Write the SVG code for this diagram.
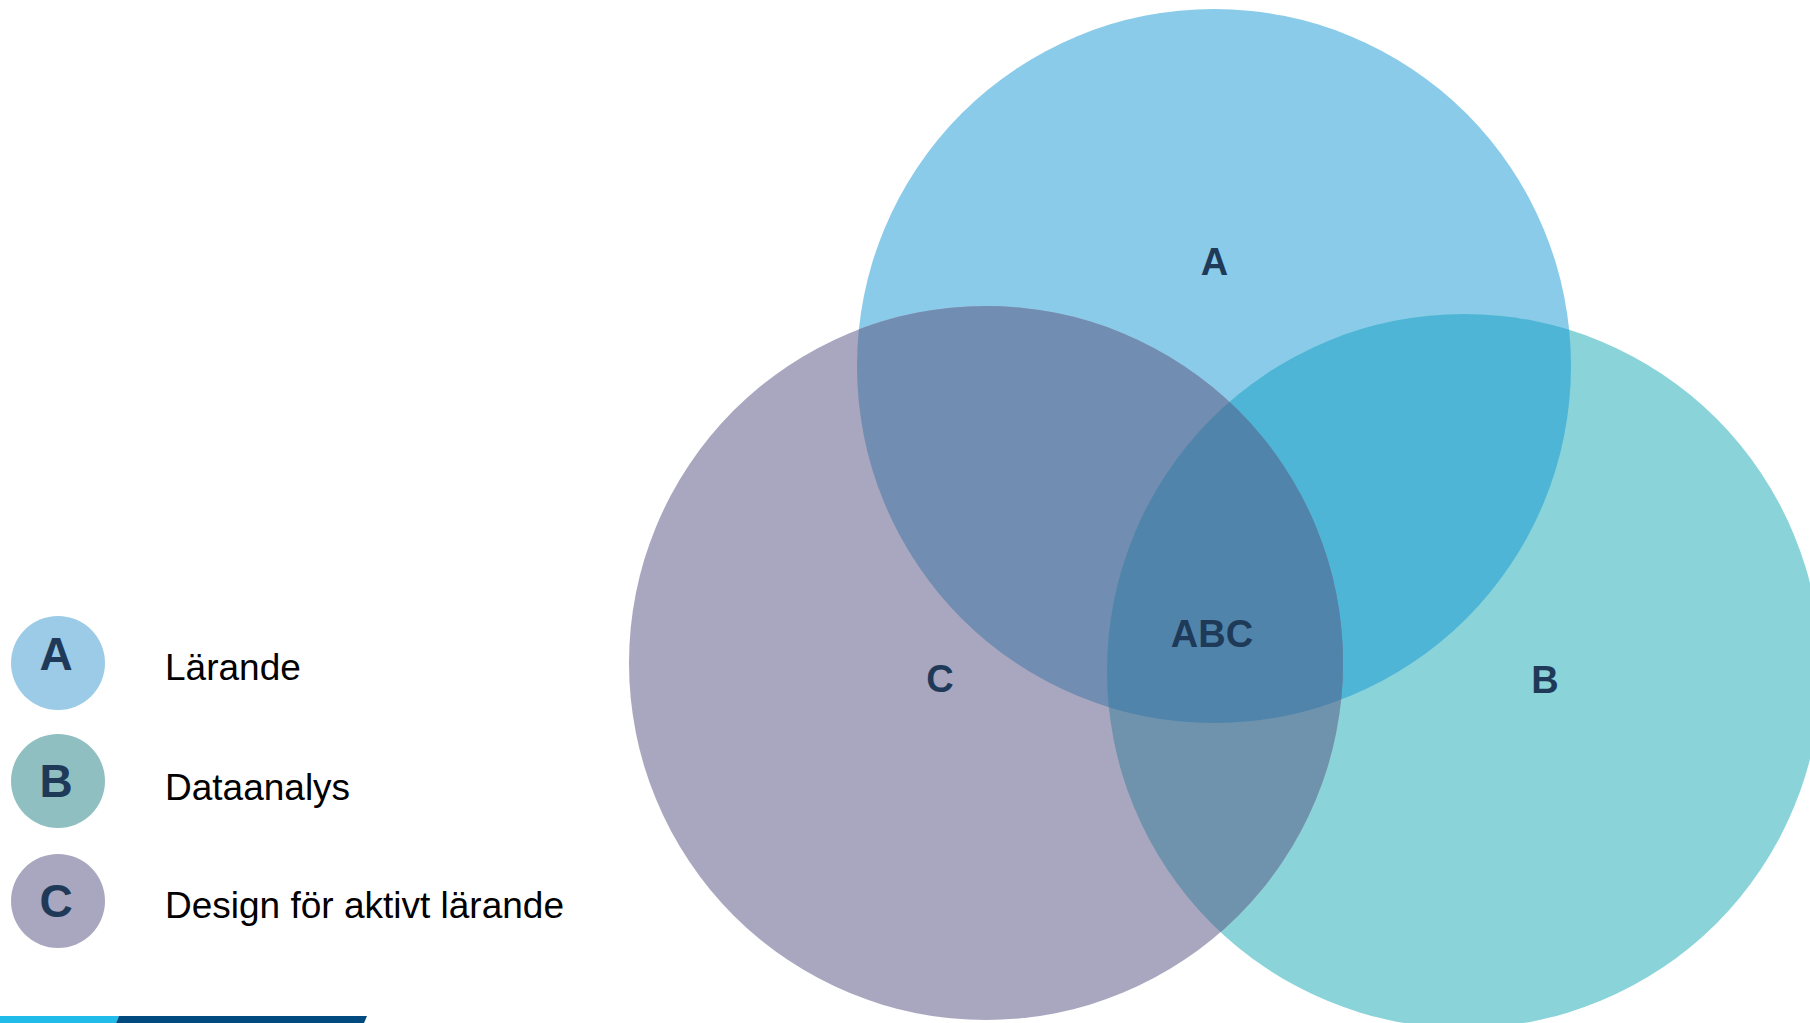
<svg xmlns="http://www.w3.org/2000/svg" width="1810" height="1023" viewBox="0 0 1810 1023">
  <style>
    .lbl { font-family: "Liberation Sans", Arial, sans-serif; font-weight: bold; fill: #1E3A58; text-anchor: middle; }
    .venn { font-size: 38px; }
    .leg { font-size: 46px; }
    .legtxt { font-family: "Liberation Sans", Arial, sans-serif; font-size: 37px; fill: #000000; }
  </style>
  <defs>
    <clipPath id="clipA"><circle cx="1214" cy="366" r="357"/></clipPath>
    <clipPath id="clipB"><circle cx="1464" cy="671" r="357"/></clipPath>
  </defs>
  <rect width="1810" height="1023" fill="#FFFFFF"/>

  <g id="node-A">
    <circle cx="1214" cy="366" r="357" fill="#8ACBE9"/>
  </g>
  <g id="node-B">
    <circle cx="1464" cy="671" r="357" fill="#8AD4D9"/>
  </g>
  <g id="node-C">
    <circle cx="986" cy="663" r="357" fill="#A9A7BF"/>
  </g>

  <g id="overlaps">
    <circle cx="1464" cy="671" r="357" fill="#4EB5D6" clip-path="url(#clipA)"/>
    <circle cx="986" cy="663" r="357" fill="#718DB1" clip-path="url(#clipA)"/>
    <circle cx="986" cy="663" r="357" fill="#6F93AC" clip-path="url(#clipB)"/>
    <g clip-path="url(#clipB)">
      <circle cx="986" cy="663" r="357" fill="#5084AA" clip-path="url(#clipA)"/>
    </g>
  </g>

  <g id="connectors"/>

  <g id="venn-labels">
    <text class="lbl venn" x="1214.5" y="275">A</text>
    <text class="lbl venn" x="1545" y="693">B</text>
    <text class="lbl venn" x="940" y="692">C</text>
    <text class="lbl venn" x="1212" y="647">ABC</text>
  </g>

  <g id="legend-A">
    <circle cx="58" cy="663" r="47" fill="#9BCBE6"/>
    <text class="lbl leg" x="56" y="670">A</text>
    <text class="legtxt" x="165" y="680">Lärande</text>
  </g>
  <g id="legend-B">
    <circle cx="58" cy="781" r="47" fill="#8FBFC0"/>
    <text class="lbl leg" x="56" y="797">B</text>
    <text class="legtxt" x="165" y="800">Dataanalys</text>
  </g>
  <g id="legend-C">
    <circle cx="58" cy="901" r="47" fill="#A9A6BF"/>
    <text class="lbl leg" x="56" y="917">C</text>
    <text class="legtxt" x="165" y="918">Design för aktivt lärande</text>
  </g>

  <g id="footer-bar">
    <polygon points="0,1016 119,1016 116,1023 0,1023" fill="#21BBEA"/>
    <polygon points="119,1016 367,1016 364,1023 116,1023" fill="#004A80"/>
  </g>
</svg>
